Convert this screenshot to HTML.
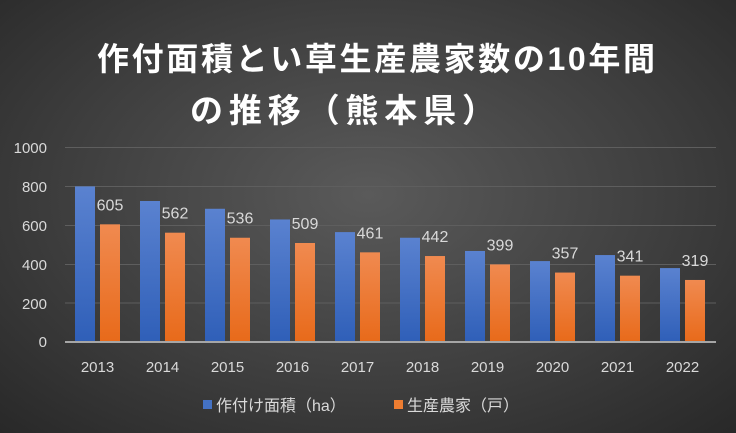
<!DOCTYPE html>
<html><head><meta charset="utf-8"><style>
html,body{margin:0;padding:0}
body{width:736px;height:433px;overflow:hidden;background:radial-gradient(ellipse 75% 80% at 50% 45%,#5a5a5a 0%,#3e3e3e 55%,#262626 100%);font-family:"Liberation Sans","Noto Sans CJK JP",sans-serif}
</style></head><body>
<svg width="736" height="433" xmlns="http://www.w3.org/2000/svg" style="position:absolute;left:0;top:0">
<defs>
<linearGradient id="b" x1="0" y1="0" x2="0" y2="1"><stop offset="0" stop-color="#5a82d0"/><stop offset="1" stop-color="#2f5fb8"/></linearGradient>
<linearGradient id="o" x1="0" y1="0" x2="0" y2="1"><stop offset="0" stop-color="#f08a50"/><stop offset="1" stop-color="#e86a1a"/></linearGradient>
</defs>
<g font-family="Liberation Sans,Noto Sans CJK JP,sans-serif" font-weight="bold" fill="#fff">
<text x="97" y="70" font-size="32" textLength="558" lengthAdjust="spacing">作付面積とい草生産農家数の10年間</text>
<text x="190" y="122" font-size="33" textLength="305" lengthAdjust="spacing">の推移（熊本県）</text>
</g>
<g stroke="#5e5e5e" stroke-width="1">
<line x1="65" x2="716" y1="147.5" y2="147.5"/><line x1="65" x2="716" y1="186.5" y2="186.5"/><line x1="65" x2="716" y1="225.5" y2="225.5"/><line x1="65" x2="716" y1="264.5" y2="264.5"/><line x1="65" x2="716" y1="303" y2="303"/>
</g>
<g font-size="15" fill="#d9d9d9" text-anchor="end">
<text x="47" y="153">1000</text><text x="47" y="192">800</text><text x="47" y="231">600</text><text x="47" y="270">400</text><text x="47" y="309">200</text><text x="47" y="347">0</text>
</g>
<g id="bars"></g>
<line x1="65" x2="716" y1="342" y2="342" stroke="#a6a6a6" stroke-width="2"/>
<g font-size="15" fill="#d9d9d9" text-anchor="middle" id="xl"></g>
<g font-size="16" fill="#d9d9d9" text-anchor="middle" id="dl"></g>
<rect x="203" y="400" width="9" height="9" fill="#4472c4"/>
<text x="216" y="411" font-size="16" fill="#d9d9d9">作付け面積（ha）</text>
<rect x="394" y="400" width="9" height="9" fill="#ed7d31"/>
<text x="407" y="411" font-size="16" fill="#d9d9d9">生産農家（戸）</text>
</svg>
<script>
var B=[800,725,685,630,565,536,468,416,447,380],O=[605,562,536,509,461,442,399,357,341,319];
var bars=document.getElementById('bars'),xl=document.getElementById('xl'),dl=document.getElementById('dl'),ns='http://www.w3.org/2000/svg';
function r(x,v,f){var h=v*0.1945;var e=document.createElementNS(ns,'rect');e.setAttribute('x',x);e.setAttribute('y',342-h);e.setAttribute('width',20);e.setAttribute('height',h);e.setAttribute('fill',f);bars.appendChild(e);}
function t(p,x,y,s){var e=document.createElementNS(ns,'text');e.setAttribute('x',x);e.setAttribute('y',y);e.textContent=s;p.appendChild(e);}
for(var i=0;i<10;i++){var x=75+i*65;r(x,B[i],'url(#b)');r(x+25,O[i],'url(#o)');t(xl,x+22.5,372,2013+i);t(dl,x+35,342-O[i]*0.1945-14,O[i]);}
</script>
</body></html>
